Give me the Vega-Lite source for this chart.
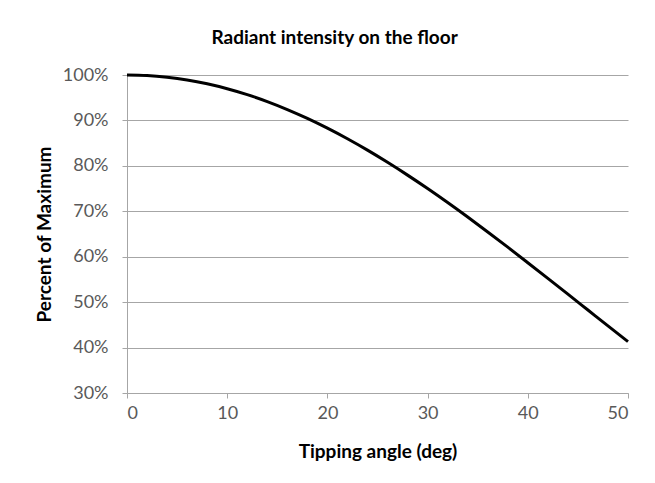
{
  "$schema": "https://vega.github.io/schema/vega-lite/v6.json",
  "width": 501,
  "height": 318,
  "autosize": {"type": "none"},
  "padding": {"left": 127, "top": 75, "right": 27, "bottom": 90},
  "background": "white",
  "title": {
    "text": "Radiant intensity on the floor",
    "font": "Lato",
    "fontSize": 19,
    "fontWeight": "bold",
    "color": "#000000",
    "anchor": "middle",
    "frame": "bounds",
    "offset": 18
  },
  "data": {
    "values": [
      {"angle": 0, "pct": 1.0},
      {"angle": 2, "pct": 0.9988},
      {"angle": 4, "pct": 0.9951},
      {"angle": 6, "pct": 0.9891},
      {"angle": 8, "pct": 0.9806},
      {"angle": 10, "pct": 0.9698},
      {"angle": 12, "pct": 0.9568},
      {"angle": 14, "pct": 0.9415},
      {"angle": 16, "pct": 0.924},
      {"angle": 18, "pct": 0.9045},
      {"angle": 20, "pct": 0.883},
      {"angle": 22, "pct": 0.8597},
      {"angle": 24, "pct": 0.8346},
      {"angle": 26, "pct": 0.8078},
      {"angle": 28, "pct": 0.7796},
      {"angle": 30, "pct": 0.75},
      {"angle": 32, "pct": 0.7192},
      {"angle": 34, "pct": 0.6873},
      {"angle": 36, "pct": 0.6545},
      {"angle": 38, "pct": 0.621},
      {"angle": 40, "pct": 0.5868},
      {"angle": 42, "pct": 0.5523},
      {"angle": 44, "pct": 0.5175},
      {"angle": 46, "pct": 0.4826},
      {"angle": 48, "pct": 0.4477},
      {"angle": 50, "pct": 0.4132}
    ]
  },
  "mark": {"type": "line", "color": "#000000", "strokeWidth": 3, "interpolate": "monotone"},
  "encoding": {
    "x": {
      "field": "angle",
      "type": "quantitative",
      "scale": {"domain": [0, 50], "nice": false},
      "axis": {
        "title": "Tipping angle (deg)",
        "values": [0, 10, 20, 30, 40, 50],
        "grid": false,
        "tickSize": 5,
        "labelPadding": 6,
        "titlePadding": 20
      }
    },
    "y": {
      "field": "pct",
      "type": "quantitative",
      "scale": {"domain": [0.3, 1.0], "nice": false, "zero": false},
      "axis": {
        "title": "Percent of Maximum",
        "format": ".0%",
        "values": [0.3, 0.4, 0.5, 0.6, 0.7, 0.8, 0.9, 1.0],
        "grid": true,
        "tickSize": 5,
        "labelPadding": 14,
        "titlePadding": 8
      }
    }
  },
  "config": {
    "view": {"stroke": null},
    "axis": {
      "labelFont": "Lato",
      "labelFontSize": 18,
      "labelColor": "#595959",
      "titleFont": "Lato",
      "titleFontSize": 19,
      "titleFontWeight": "bold",
      "titleColor": "#000000",
      "domainColor": "#a6a6a6",
      "tickColor": "#a6a6a6",
      "gridColor": "#a6a6a6",
      "domainWidth": 1,
      "tickWidth": 1,
      "gridWidth": 1
    }
  }
}
